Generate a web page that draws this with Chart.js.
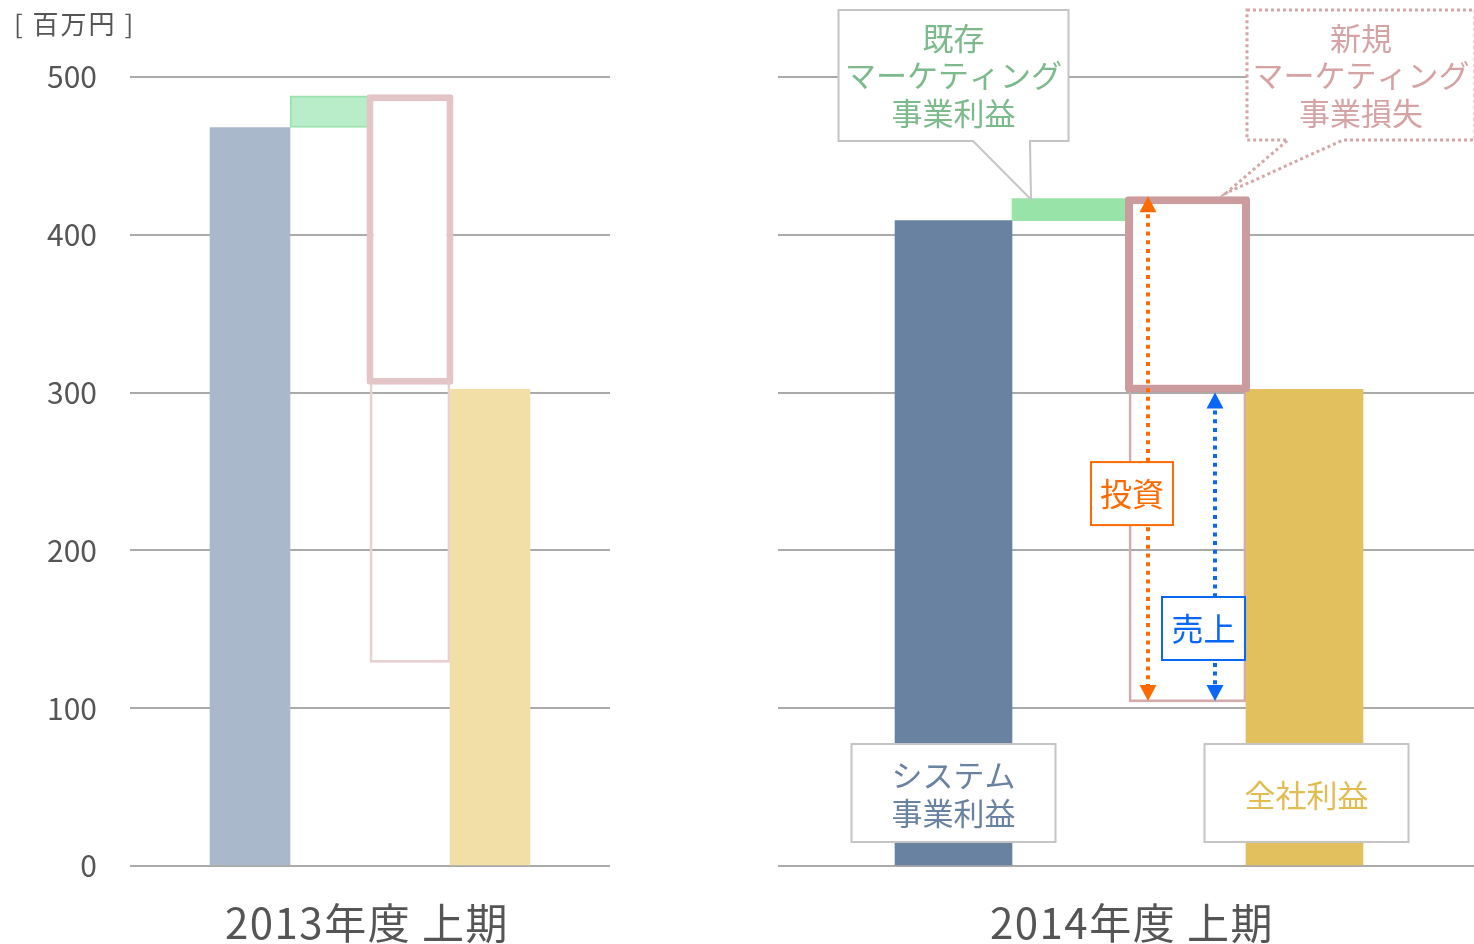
<!DOCTYPE html>
<html lang="ja">
<head>
<meta charset="utf-8">
<script src="https://cdn.jsdelivr.net/npm/chart.js@4.4.1/dist/chart.umd.min.js"></script>
<style>
  html, body { margin: 0; padding: 0; background: #fff; overflow: hidden; width: 1474px; height: 944px; }
  #left { position: absolute; left: 0; top: 0; }
  #right { position: absolute; left: 778px; top: 0; }
</style>
</head>
<body>
<canvas id="left" width="620" height="944"></canvas>
<canvas id="right" width="732" height="944"></canvas>
<script>
// Data
const slots = ['', 'system', 'existing', 'new', 'total', ''];
const yTicks = [0, 100, 200, 300, 400, 500];
const periodLabels = ['2013年度 上期', '2014年度 上期'];

// 2013年度 上期 (floating bars: [from, to])
const solid2013 = [null, [0, 468], [468, 488], null, [0, 302], null];
const newBox2013 = [null, null, null, [305, 489], null, null];
const newBase2013 = [null, null, null, [129, 307], null, null];

// 2014年度 上期
const solid2014 = [null, [0, 409], [409, 423], null, [0, 302], null];
const newBox2014 = [null, null, null, [300, 424.5], null, null];
const newBase2014 = [null, null, null, [104, 302], null, null];

// arrows on 2014
const investRange = [104, 424.5]; // 投資
const salesRange = [104, 300];    // 売上

const FONT = "'Noto Sans CJK JP', 'Noto Sans', sans-serif";

// helpers
function drawLines(ctx, lines, cx, cy, lineH, size, color, align, spacing) {
  ctx.save();
  ctx.font = `${size}px ${FONT}`;
  ctx.fillStyle = color;
  ctx.textAlign = align || 'center';
  ctx.textBaseline = 'middle';
  if (spacing) ctx.letterSpacing = spacing + 'px';
  const start = cy - (lines.length - 1) * lineH / 2;
  lines.forEach((t, i) => ctx.fillText(t, cx, start + i * lineH));
  ctx.restore();
}

function labelBox(ctx, cx, cy, w, h, stroke, lw) {
  ctx.save();
  ctx.fillStyle = '#fff';
  ctx.strokeStyle = stroke;
  ctx.lineWidth = lw;
  ctx.fillRect(cx - w / 2, cy - h / 2, w, h);
  ctx.strokeRect(cx - w / 2, cy - h / 2, w, h);
  ctx.restore();
}

// box with a tail pointing down to (tx, ty); tail leaves the bottom edge between a and b
function callout(ctx, left, top, w, h, a, b, tx, ty, stroke, dash) {
  const bottom = top + h;
  ctx.save();
  ctx.beginPath();
  ctx.moveTo(left, top);
  ctx.lineTo(left + w, top);
  ctx.lineTo(left + w, bottom);
  ctx.lineTo(b, bottom);
  ctx.lineTo(tx, ty);
  ctx.lineTo(a, bottom);
  ctx.lineTo(left, bottom);
  ctx.closePath();
  ctx.fillStyle = '#fff';
  ctx.fill();
  ctx.strokeStyle = stroke;
  if (dash) {
    ctx.lineWidth = 3;
    ctx.setLineDash(dash);
  } else {
    ctx.lineWidth = 2;
  }
  ctx.stroke();
  ctx.restore();
}

function arrow(ctx, x, yTop, yBottom, color) {
  const hh = 16, hw = 8.5;
  ctx.save();
  ctx.strokeStyle = color;
  ctx.fillStyle = color;
  ctx.lineWidth = 4;
  ctx.setLineDash([4, 4.7]);
  ctx.beginPath();
  ctx.moveTo(x, yTop + hh + 2);
  ctx.lineTo(x, yBottom - hh);
  ctx.stroke();
  ctx.setLineDash([]);
  ctx.beginPath();
  ctx.moveTo(x, yTop);
  ctx.lineTo(x + hw, yTop + hh);
  ctx.lineTo(x - hw, yTop + hh);
  ctx.closePath();
  ctx.fill();
  ctx.beginPath();
  ctx.moveTo(x, yBottom);
  ctx.lineTo(x + hw, yBottom - hh);
  ctx.lineTo(x - hw, yBottom - hh);
  ctx.closePath();
  ctx.fill();
  ctx.restore();
}

function buildChart(id, cfg) {
  return new Chart(document.getElementById(id), {
    type: 'bar',
    data: {
      labels: slots,
      datasets: [
        {
          // new marketing loss (outlined, on top)
          data: cfg.box,
          backgroundColor: '#fff',
          borderColor: cfg.boxColor,
          borderWidth: cfg.boxWidth,
          borderRadius: 3,
          borderSkipped: false,
          barPercentage: cfg.boxPct,
          categoryPercentage: 1,
          grouped: false
        },
        {
          data: cfg.solid,
          backgroundColor: cfg.solidColors,
          borderColor: cfg.solidBorders,
          borderWidth: cfg.solidBorderWidths,
          borderSkipped: false,
          barPercentage: 1,
          categoryPercentage: 1,
          grouped: false
        },
        {
          // thin outline below the loss box
          data: cfg.base,
          backgroundColor: 'rgba(255,255,255,0)',
          borderColor: cfg.baseColor,
          borderWidth: 2,
          borderSkipped: false,
          barPercentage: 1,
          categoryPercentage: 1,
          grouped: false
        }
      ]
    },
    options: {
      responsive: false,
      animation: false,
      events: [],
      layout: { padding: cfg.padding },
      plugins: { legend: { display: false }, tooltip: { enabled: false } },
      scales: {
        x: { display: false },
        y: {
          min: 0,
          max: 500,
          afterBuildTicks: s => { s.ticks = yTicks.map(v => ({ value: v })); },
          afterFit: s => { s.width = cfg.axisWidth; },
          ticks: {
            display: cfg.showTicks,
            padding: 33,
            color: '#555',
            font: { family: FONT, size: 30 }
          },
          grid: { color: '#aaa', lineWidth: 2, drawTicks: false },
          border: { display: false }
        }
      }
    },
    plugins: [cfg.overlay]
  });
}

// 2013 panel
buildChart('left', {
  solid: solid2013,
  box: newBox2013,
  base: newBase2013,
  solidColors: ['#fff', '#aab8cb', '#b9edc9', '#fff', '#f2dea7', '#fff'],
  solidBorders: ['#fff', '#aab8cb', '#9ae3ad', '#fff', '#f2dea7', '#fff'],
  solidBorderWidths: [0, 0, 2, 0, 0, 0],
  boxColor: '#e4c5c7',
  boxWidth: 7,
  boxPct: 1.0875,
  baseColor: '#e8cfd0',
  axisWidth: 130,
  showTicks: true,
  padding: { left: 0, right: 10, top: 77, bottom: 78 },
  overlay: {
    id: 'overlay2013',
    afterDraw(chart) {
      const { ctx, chartArea } = chart;
      drawLines(ctx, ['[ 百万円 ]'], 14, 24, 0, 26, '#555', 'left', 2);
      drawLines(ctx, [periodLabels[0]], (chartArea.left + chartArea.right) / 2 - 3, 923, 0, 42, '#555', 'center', 1.5);
    }
  }
});

// 2014 panel
buildChart('right', {
  solid: solid2014,
  box: newBox2014,
  base: newBase2014,
  solidColors: ['#fff', '#6a82a2', '#98e3a7', '#fff', '#e2c05e', '#fff'],
  solidBorders: ['#fff', '#6a82a2', '#98e3a7', '#fff', '#e2c05e', '#fff'],
  solidBorderWidths: [0, 0, 0, 0, 0, 0],
  boxColor: '#cb9b9d',
  boxWidth: 8,
  boxPct: 1.068,
  baseColor: '#d4aaab',
  axisWidth: 0,
  showTicks: false,
  padding: { left: 0, right: 30, top: 77, bottom: 78 },
  overlay: {
    id: 'overlay2014',
    afterDraw(chart) {
      const { ctx, chartArea } = chart;
      const xs = chart.scales.x, ys = chart.scales.y;
      const cSys = xs.getPixelForValue(1);
      const cExist = xs.getPixelForValue(2);
      const cNew = xs.getPixelForValue(3);
      const cTotal = xs.getPixelForValue(4);
      const slotW = xs.getPixelForValue(1) - xs.getPixelForValue(0);

      // arrows
      const xInvest = cNew - 39.5;
      const xSales = cNew + 27.5;
      arrow(ctx, xInvest, ys.getPixelForValue(investRange[1]), ys.getPixelForValue(investRange[0]) - 1, '#ff6a00');
      arrow(ctx, xSales, ys.getPixelForValue(salesRange[1]), ys.getPixelForValue(salesRange[0]) - 1, '#0a66f5');

      // 投資 / 売上 labels
      const yInv = ys.getPixelForValue(236);
      labelBox(ctx, xInvest - 16, yInv, 82, 63, '#ff6a00', 2);
      drawLines(ctx, ['投資'], xInvest - 16, yInv, 0, 32, '#ff6a00');
      const ySal = ys.getPixelForValue(150.5);
      labelBox(ctx, xSales - 11.5, ySal, 83, 63, '#0a66f5', 2);
      drawLines(ctx, ['売上'], xSales - 11.5, ySal, 0, 32, '#0a66f5');

      // 既存 callout
      const exTipX = cExist - slotW / 2 + 19;
      const exTipY = ys.getPixelForValue(solid2014[2][1]) + 1;
      callout(ctx, cSys - 115, 10, 230, 131, cSys + 19.5, cSys + 76.5, exTipX, exTipY, '#c4c4c4');
      drawLines(ctx, ['既存', 'マーケティング', '事業利益'], cSys, 75.5, 37.5, 31, '#7cba8c');

      // 新規 callout
      const nwCx = cTotal + 56.5;
      const nwTipX = cNew + slotW * 1.068 / 2 - 24;
      const nwTipY = ys.getPixelForValue(newBox2014[3][1]) - 3;
      callout(ctx, nwCx - 114, 10, 228, 130, nwCx - 73, nwCx - 18, nwTipX, nwTipY, '#d5a6a7', [3, 3]);
      drawLines(ctx, ['新規', 'マーケティング', '事業損失'], nwCx, 75.5, 37.5, 31, '#d5a3a4');

      // bottom labels
      labelBox(ctx, cSys, 793, 204, 98, '#c4c4c4', 2);
      drawLines(ctx, ['システム', '事業利益'], cSys, 794, 38, 31, '#6a82a2');
      labelBox(ctx, cTotal + 2, 793, 204, 98, '#c4c4c4', 2);
      drawLines(ctx, ['全社利益'], cTotal + 2, 795, 0, 31, '#e2bc50');

      drawLines(ctx, [periodLabels[1]], (chartArea.left + chartArea.right) / 2 + 3, 923, 0, 42, '#555', 'center', 1.5);
    }
  }
});
</script>
</body>
</html>
